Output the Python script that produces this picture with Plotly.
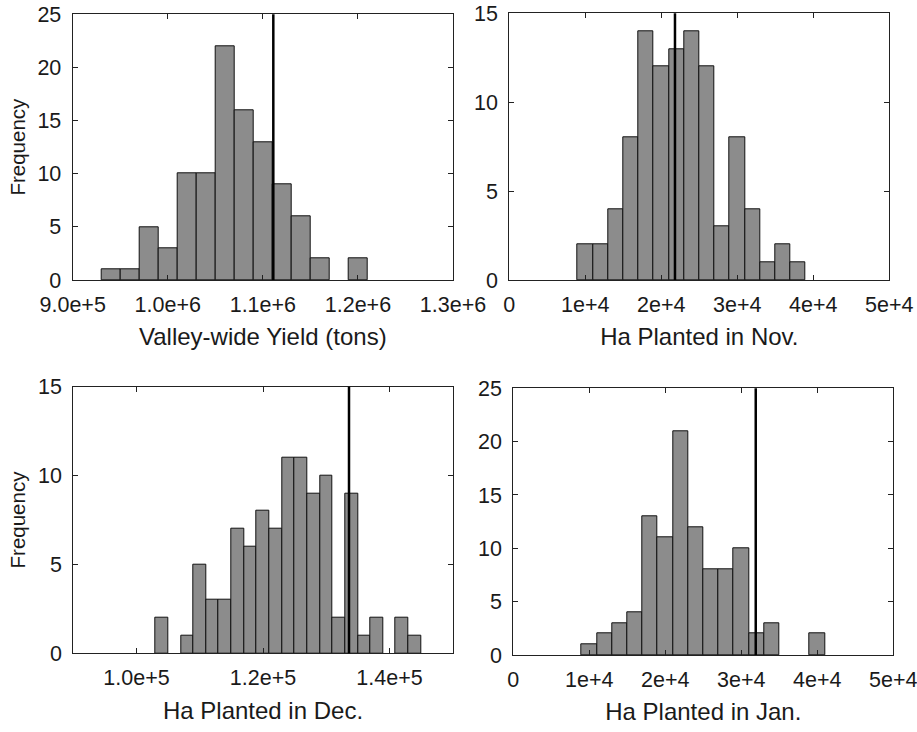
import plotly.graph_objects as go

# ---------------- data ----------------
# Panel 1: Valley-wide Yield (tons)
yield_bin_start = 930000
yield_bin_width = 20000
yield_counts = [1, 1, 5, 3, 10, 10, 22, 16, 13, 9, 6, 2, 0, 2]
yield_ref = 1111000

# Panel 2: Ha Planted in Nov.
nov_bin_start = 9000
nov_bin_width = 2000
nov_counts = [2, 2, 4, 8, 14, 12, 13, 14, 12, 3, 8, 4, 1, 2, 1]
nov_ref = 21800

# Panel 3: Ha Planted in Dec.
dec_bin_start = 103000
dec_bin_width = 2000
dec_counts = [2, 0, 1, 5, 3, 3, 7, 6, 8, 7, 11, 11, 9, 10, 2, 9, 1, 2, 0, 2, 1]
dec_ref = 133600

# Panel 4: Ha Planted in Jan.
jan_bin_start = 9000
jan_bin_width = 2000
jan_counts = [1, 2, 3, 4, 13, 11, 21, 12, 8, 8, 10, 2, 3, 0, 0, 2]
jan_ref = 31900

x_titles = ["Valley-wide Yield (tons)", "Ha Planted in Nov.",
            "Ha Planted in Dec.", "Ha Planted in Jan."]

yield_ticks = [900000, 1000000, 1100000, 1200000, 1300000]
yield_ticktext = ["9.0e+5", "1.0e+6", "1.1e+6", "1.2e+6", "1.3e+6"]
ha_ticks = [0, 10000, 20000, 30000, 40000, 50000]
ha_ticktext = ["0", "1e+4", "2e+4", "3e+4", "4e+4", "5e+4"]
dec_ticks = [100000, 120000, 140000]
dec_ticktext = ["1.0e+5", "1.2e+5", "1.4e+5"]

W, H = 917, 732


def dom_x(a, b):
    return [a / W, b / W]


def dom_y(top, bottom):
    return [1 - bottom / H, 1 - top / H]


panels = [
    dict(start=yield_bin_start, width=yield_bin_width, counts=yield_counts, ref=yield_ref,
         xr=[900000, 1300000], yr=[0, 25], yt=[0, 5, 10, 15, 20, 25],
         xt=yield_ticks, xtt=yield_ticktext, ytitle="Frequency",
         dx=dom_x(72.7, 453), dy=dom_y(14.3, 280)),
    dict(start=nov_bin_start, width=nov_bin_width, counts=nov_counts, ref=nov_ref,
         xr=[0, 50000], yr=[0, 15], yt=[0, 5, 10, 15],
         xt=ha_ticks, xtt=ha_ticktext, ytitle="",
         dx=dom_x(509.3, 889.3), dy=dom_y(13.3, 280)),
    dict(start=dec_bin_start, width=dec_bin_width, counts=dec_counts, ref=dec_ref,
         xr=[90000, 150000], yr=[0, 15], yt=[0, 5, 10, 15],
         xt=dec_ticks, xtt=dec_ticktext, ytitle="Frequency",
         dx=dom_x(73.3, 452.7), dy=dom_y(386.7, 653.3)),
    dict(start=jan_bin_start, width=jan_bin_width, counts=jan_counts, ref=jan_ref,
         xr=[0, 50000], yr=[0, 25], yt=[0, 5, 10, 15, 20, 25],
         xt=ha_ticks, xtt=ha_ticktext, ytitle="",
         dx=dom_x(513.3, 893.3), dy=dom_y(388.3, 655)),
]

FONT = "Liberation Sans, Arial, sans-serif"
fig = go.Figure()

for i, p in enumerate(panels):
    n = i + 1
    xa = "x" if n == 1 else f"x{n}"
    ya = "y" if n == 1 else f"y{n}"
    centers, counts = [], []
    for k, c in enumerate(p["counts"]):
        if c > 0:
            centers.append(p["start"] + p["width"] * (k + 0.5))
            counts.append(c)
    fig.add_trace(go.Bar(
        x=centers, y=counts, width=[p["width"]] * len(centers),
        marker=dict(color="#8c8c8c", line=dict(color="#111111", width=1)),
        xaxis=xa, yaxis=ya, showlegend=False, hoverinfo="x+y"))
    fig.add_shape(type="line", xref=xa, yref=f"{ya} domain",
                  x0=p["ref"], x1=p["ref"], y0=0, y1=1,
                  line=dict(color="black", width=2.5))
    axis_common = dict(showline=True, linecolor="#222222", linewidth=1.2,
                       mirror="ticks", ticks="inside", ticklen=5, tickcolor="#222222",
                       showgrid=False, zeroline=False, automargin=False,
                       ticklabeloverflow="allow",
                       tickfont=dict(family=FONT, size=21.5, color="#1a1a1a"))
    fig.layout[("xaxis" if n == 1 else f"xaxis{n}")] = dict(
        **axis_common, anchor=ya, domain=p["dx"], range=p["xr"],
        tickvals=p["xt"], ticktext=p["xtt"], ticklabelstandoff=5,
        title=dict(text=x_titles[i], font=dict(family=FONT, size=24, color="#1a1a1a"),
                   standoff=12))
    fig.layout[("yaxis" if n == 1 else f"yaxis{n}")] = dict(
        **axis_common, anchor=xa, domain=p["dy"], range=p["yr"],
        tickvals=p["yt"], ticklabelstandoff=6,
        title=dict(text=p["ytitle"], font=dict(family=FONT, size=20.5, color="#1a1a1a"),
                   standoff=6))

fig.update_layout(width=W, height=H, margin=dict(l=0, r=0, t=0, b=0),
                  plot_bgcolor="white", paper_bgcolor="white", bargap=0)
fig.write_html("out.html", config={"displayModeBar": False},
               post_script="document.body.style.margin='0';document.body.style.overflow='hidden';")
